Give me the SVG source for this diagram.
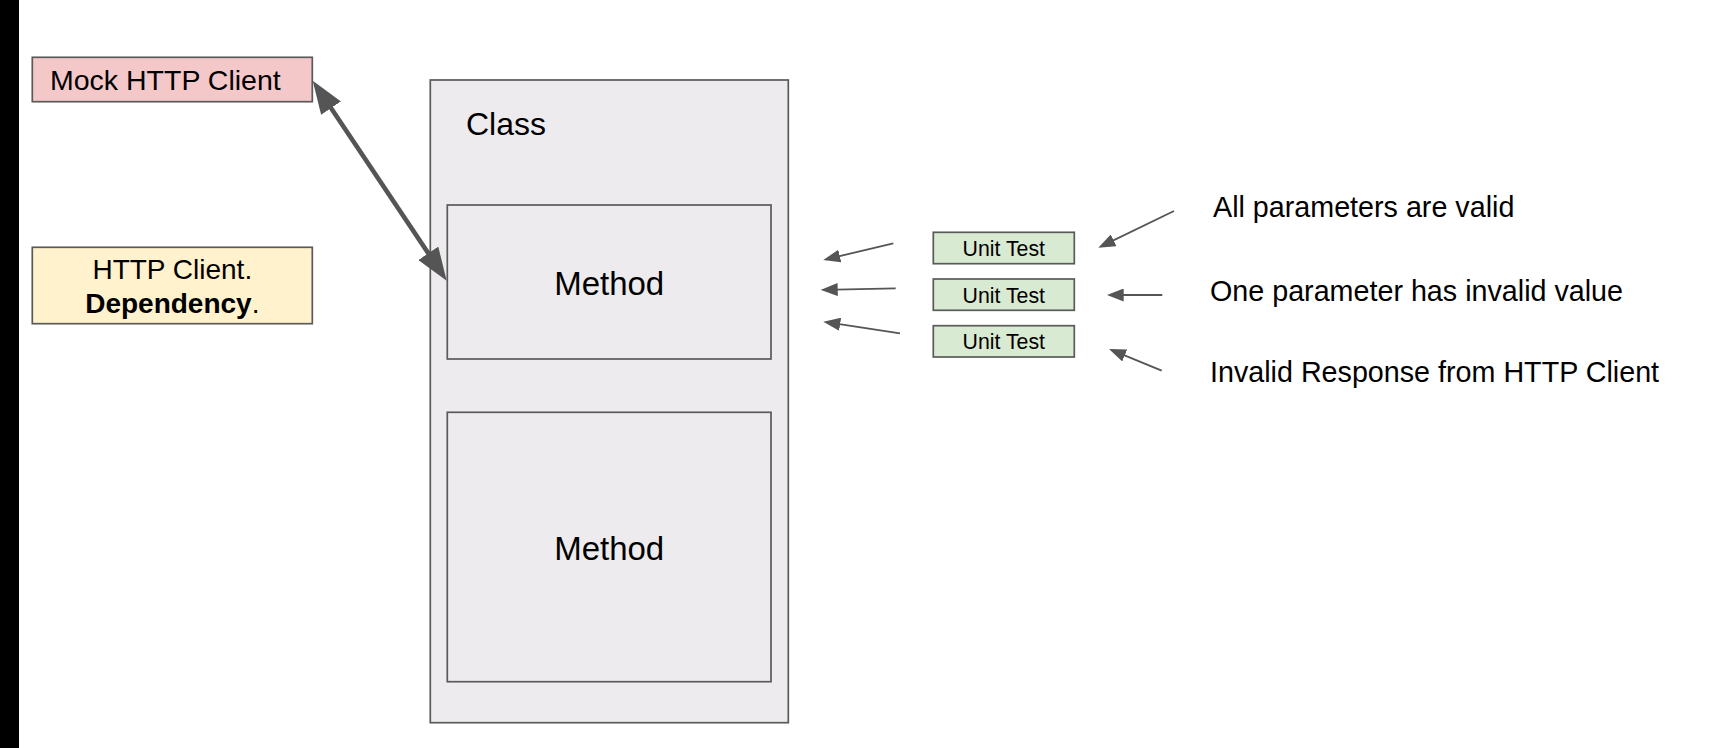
<svg xmlns="http://www.w3.org/2000/svg" width="1732" height="748" viewBox="0 0 1732 748">
<style>
  text { font-family: "Liberation Sans", Arial, sans-serif; fill: #000; }
  .box { stroke: #5a5a5a; stroke-width: 1.7; }
  .conn { stroke: #555; fill: none; }
  .thin { stroke-width: 1.8; }
  .thick { stroke-width: 4.6; }
</style>
<defs>
  <marker id="headBig" markerUnits="userSpaceOnUse" viewBox="0 0 33 24" refX="23" refY="12" markerWidth="33" markerHeight="24" orient="auto-start-reverse">
    <path d="M0,0 L33,12 L0,24 z" fill="#555"/>
  </marker>
  <marker id="headSmall" markerUnits="userSpaceOnUse" viewBox="0 0 17 13" refX="14" refY="6.5" markerWidth="17" markerHeight="13" orient="auto">
    <path d="M0,0 L17,6.5 L0,13 z" fill="#555"/>
  </marker>
</defs>
<rect x="0" y="0" width="1732" height="748" fill="#ffffff"/>
<rect x="0" y="0" width="19" height="748" fill="#000000"/>

<g id="mock-http-client">
  <rect class="box" x="32.3" y="57.3" width="280" height="44.4" fill="#f4c7c9"/>
  <text x="50" y="89.5" font-size="28.5">Mock HTTP Client</text>
</g>

<g id="http-client-dependency">
  <rect class="box" x="32.3" y="247.3" width="280" height="76.4" fill="#fff2cc"/>
  <text x="172.3" y="278.5" font-size="28" text-anchor="middle">HTTP Client.</text>
  <text x="172.3" y="313.3" font-size="28" text-anchor="middle"><tspan font-weight="bold">Dependency</tspan>.</text>
</g>

<g id="class">
  <rect class="box" x="430.3" y="80" width="358" height="642.7" fill="#edebee"/>
  <text x="466" y="135" font-size="32">Class</text>
</g>

<g id="method-1">
  <rect class="box" x="447.3" y="205" width="323.7" height="154" fill="#edebee"/>
  <text x="609.2" y="295" font-size="33" text-anchor="middle">Method</text>
</g>

<g id="method-2">
  <rect class="box" x="447.3" y="412.3" width="323.7" height="269.4" fill="#edebee"/>
  <text x="609.2" y="560" font-size="33" text-anchor="middle">Method</text>
</g>

<g id="unit-test-1">
  <rect class="box" x="933.3" y="232.3" width="141" height="31.4" fill="#d9ead3"/>
  <text x="1003.8" y="255.8" font-size="21.3" text-anchor="middle">Unit Test</text>
</g>
<g id="unit-test-2">
  <rect class="box" x="933.3" y="279" width="141" height="31.3" fill="#d9ead3"/>
  <text x="1003.8" y="302.5" font-size="21.3" text-anchor="middle">Unit Test</text>
</g>
<g id="unit-test-3">
  <rect class="box" x="933.3" y="325.7" width="141" height="31.3" fill="#d9ead3"/>
  <text x="1003.8" y="349.2" font-size="21.3" text-anchor="middle">Unit Test</text>
</g>

<g id="label-valid">
  <text x="1213" y="217.3" font-size="28.7">All parameters are valid</text>
</g>
<g id="label-invalid-value">
  <text x="1210" y="301" font-size="28.7">One parameter has invalid value</text>
</g>
<g id="label-invalid-response">
  <text x="1210" y="381.7" font-size="28.7">Invalid Response from HTTP Client</text>
</g>

<g id="connectors">
  <path class="conn thick" d="M318.3,89 L441.1,272.4" marker-start="url(#headBig)" marker-end="url(#headBig)"/>
  <path class="conn thin" d="M893.3,243.3 L826.2,259.3" marker-end="url(#headSmall)"/>
  <path class="conn thin" d="M895.7,288.3 L823.7,289.9" marker-end="url(#headSmall)"/>
  <path class="conn thin" d="M900,333.3 L826.3,322.1" marker-end="url(#headSmall)"/>
  <path class="conn thin" d="M1174,211 L1101,246.4" marker-end="url(#headSmall)"/>
  <path class="conn thin" d="M1162.3,295 L1109.7,295" marker-end="url(#headSmall)"/>
  <path class="conn thin" d="M1161.7,370.7 L1111.8,350.1" marker-end="url(#headSmall)"/>
</g>
</svg>
